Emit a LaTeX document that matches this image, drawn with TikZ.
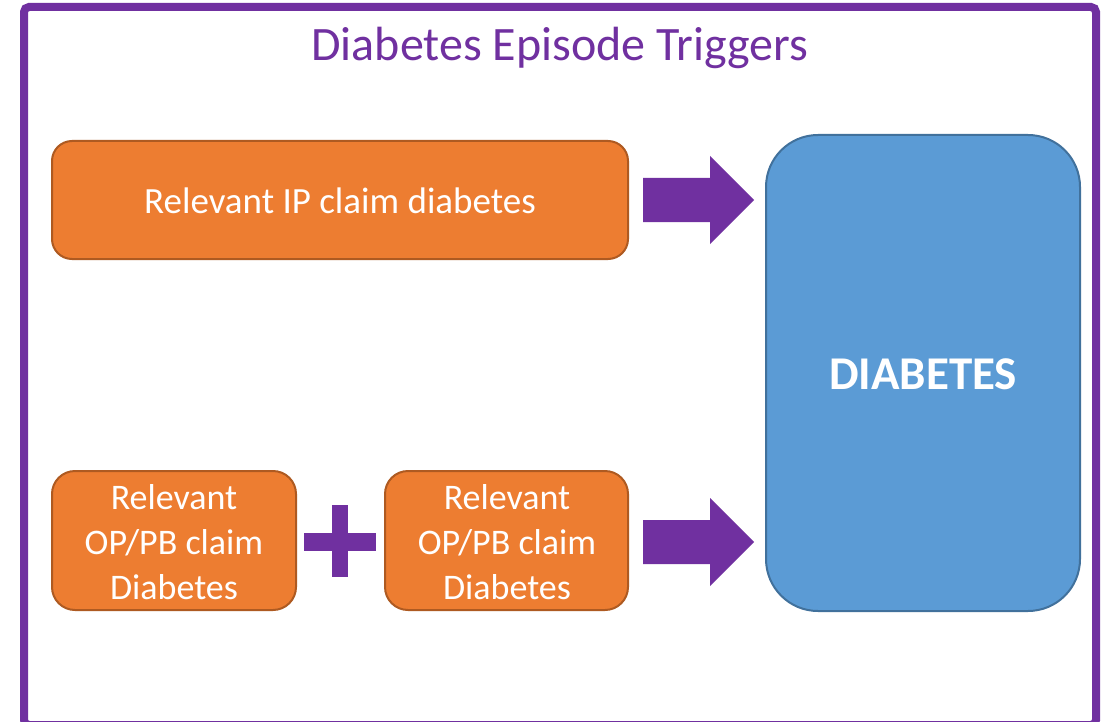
\documentclass[tikz,border=0pt]{standalone}
\usepackage{fontspec}
\setmainfont{Carlito}
\definecolor{frameP}{HTML}{7030A0}
\definecolor{orgF}{HTML}{ED7D31}
\definecolor{orgD}{HTML}{AE5A21}
\definecolor{bluF}{HTML}{5B9BD5}
\definecolor{bluD}{HTML}{41719C}
\begin{document}
\begin{tikzpicture}[x=1pt,y=-1pt,
  obox/.style={draw=orgD, fill=orgF, line width=2pt, text=white, align=center,
    font=\fontsize{36}{45}\selectfont, inner sep=0pt},
  bbox/.style={draw=bluD, fill=bluF, line width=2pt},
  parrow/.style={fill=frameP, draw=none}]
\useasboundingbox (0,0) rectangle (1102,722);
\fill[white] (0,0) rectangle (1102,722);
\draw[frameP, line width=8pt, rounded corners=5pt] (24,7) rectangle (1096,725);
\node[text=frameP, font=\fontsize{48}{55}\selectfont] (title) at (560,48) {Diabetes Episode Triggers};
% boxes
\draw[obox, rounded corners=20pt] (52,141) rectangle (628,259);
\node[text=white, font=\fontsize{37}{44}\selectfont] (ip) at (340,201) {Relevant IP claim diabetes};
\draw[obox, rounded corners=23pt] (52,471) rectangle (296,610);
\node[obox, draw=none, fill=none] (op1) at (174,542) {Relevant\\OP/PB claim\\Diabetes};
\draw[obox, rounded corners=23pt] (385,471) rectangle (628,610);
\node[obox, draw=none, fill=none] (op2) at (507,542) {Relevant\\OP/PB claim\\Diabetes};
\draw[bbox, rounded corners=52pt] (766,135) rectangle (1080,611);
\node[text=white, font=\fontsize{47}{54}\selectfont\bfseries] (dia) at (923,374) {DIABETES};
% arrows
\fill[parrow] (643,178) -- (710,178) -- (710,156) -- (754,200) -- (710,244) -- (710,222) -- (643,222) -- cycle;
\fill[parrow] (643,520) -- (710,520) -- (710,498) -- (754,542) -- (710,586) -- (710,564) -- (643,564) -- cycle;
% plus
\fill[parrow] (304,533) rectangle (376,551);
\fill[parrow] (332,505) rectangle (348,577);
\end{tikzpicture}
\end{document}
